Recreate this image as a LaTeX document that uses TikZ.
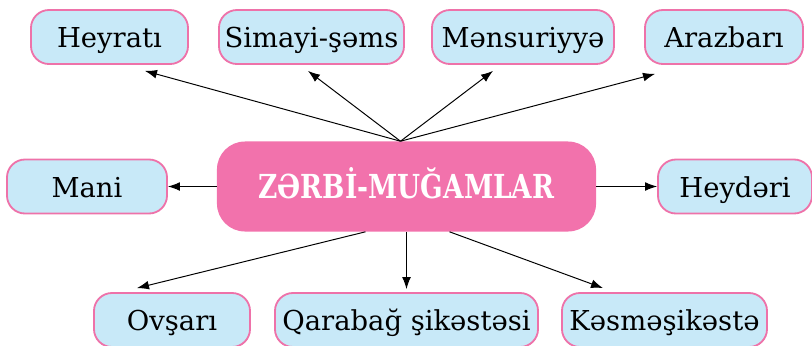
\documentclass[tikz,border=0pt]{standalone}
\usepackage{fontspec}
\setmainfont{DejaVu Serif}
\newfontfamily\titlefont[FakeStretch=0.8]{DejaVu Serif}
\usetikzlibrary{calc, arrows.meta}
\definecolor{boxblue}{HTML}{C8E9F8}
\definecolor{boxpink}{HTML}{EE72A9}
\definecolor{mainpink}{HTML}{F272AC}

\begin{document}
\begin{tikzpicture}[
    x=0.025cm, y=-0.025cm,
    item/.style={draw=boxpink, line width=1.3pt, fill=boxblue,
        rounded corners=0.45cm, minimum height=1.35cm, inner sep=2pt,
        text height=15.6pt, text depth=0pt,
        font=\fontsize{19.5}{23}\selectfont},
    hub/.style={fill=mainpink, rounded corners=0.7cm,
        minimum width=9.475cm, minimum height=2.25cm,
        text height=17pt, text depth=0pt,
        text=white, font=\titlefont\bfseries\fontsize{23.5}{28}\selectfont},
    link/.style={line width=0.7pt, -{Latex[length=3mm, width=2.2mm]}}
]
    \useasboundingbox (0,0) rectangle (812,345);
    \node[hub] (main) at (406.5,186.5) {ZƏRBİ-MUĞAMLAR};
    \node[item, minimum width=3.925cm] (heyrati) at (109.5,37) {Heyratı};
    \node[item, minimum width=4.625cm] (simayi) at (311.5,37) {Simayi-şəms};
    \node[item, minimum width=4.55cm] (mensur) at (523,37) {Mənsuriyyə};
    \node[item, minimum width=3.95cm] (arazbari) at (724,37) {Arazbarı};
    \node[item, minimum width=4cm] (mani) at (87,186.5) {Mani};
    \node[item, minimum width=3.85cm] (heyderi) at (735,186.5) {Heydəri};
    \node[item, minimum width=3.9cm] (ovsari) at (172,320) {Ovşarı};
    \node[item, minimum width=6.575cm] (qarabag) at (406.5,320) {Qarabağ şikəstəsi};
    \node[item, minimum width=5.125cm] (kesme) at (664.5,320) {Kəsməşikəstə};
    \draw[link] ($(main.north)+(-6,0)$) -- ($(heyrati.south)+(35.5,6)$);
    \draw[link] ($(main.north)+(-6,0)$) -- ($(simayi.south)+(-3.5,6)$);
    \draw[link] ($(main.north)+(-6,0)$) -- ($(mensur.south)+(-30,6)$);
    \draw[link] ($(main.north)+(-6,0)$) -- ($(arazbari.south)+(-69,9)$);
    \draw[link] (main.west) -- (mani.east);
    \draw[link] (main.east) -- (heyderi.west);
    \draw[link] ($(main.south)+(-41,0)$) -- ($(ovsari.north)+(-35,-4)$);
    \draw[link] (main.south) -- ($(qarabag.north)+(0,-3)$);
    \draw[link] ($(main.south)+(43,0)$) -- ($(kesme.north)+(-61.5,-4)$);
\end{tikzpicture}
\end{document}
